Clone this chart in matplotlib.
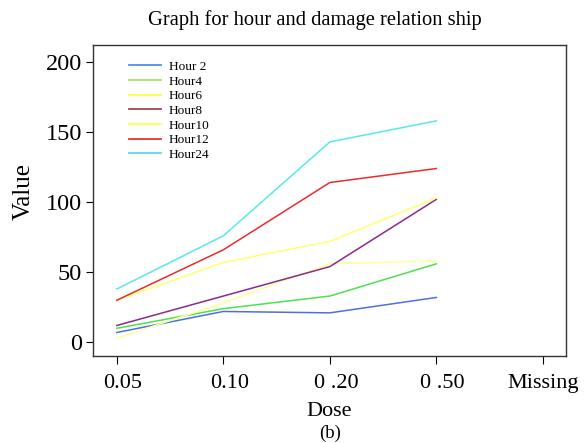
import numpy as np
import matplotlib
matplotlib.use("Agg")
import matplotlib.pyplot as plt
import matplotlib.transforms as mtransforms

plt.rcParams['font.family'] = ['Liberation Serif', 'DejaVu Serif']

# data
doses = ["0.05", "0.10", "0 .20", "0 .50", "Missing"]
hour2 = [7, 22, 21, 32]
hour4 = [10, 24, 33, 56]
hour6 = [3, 28, 56, 58]
hour8 = [12, 33, 54, 102]
hour10 = [30, 57, 72, 103]
hour12 = [30, 66, 114, 124]
hour24 = [38, 76, 143, 158]

labels = ["Hour 2", "Hour4", "Hour6", "Hour8", "Hour10", "Hour12", "Hour24"]
series = [hour2, hour4, hour6, hour8, hour10, hour12, hour24]
colors = ["#4f6fdc", "#4ee04e", "#ffff9a", "#8a2a8a", "#ffff70", "#ee2a2a", "#55eaea"]
legend_colors = ["#4f8fe8", "#a8e060", "#ffff40", "#a04848", "#ffff50", "#e83030", "#55dde8"]

fig = plt.figure(figsize=(5.84, 4.43), dpi=100)
ax = fig.add_axes([0.159, 0.196, 0.81, 0.702])

x = np.arange(len(doses))
for s, c in zip(series, colors):
    ax.plot(x[:len(s)], s, color=c, lw=1.1)

# legend
handles = [plt.Line2D([], [], color=c, lw=1.3) for c in legend_colors]
ax.legend(handles, labels, loc="upper left", bbox_to_anchor=(0.06, 0.975),
          frameon=False, fontsize=9.5, handlelength=2.4, labelspacing=0.18,
          handletextpad=0.6, borderaxespad=0.2)

ax.set_xlim(-0.225, 4.216)
ax.set_ylim(-9.9, 212)
ax.set_xticks(x)
ax.set_xticklabels(doses, fontsize=16)
ax.set_yticks([0, 50, 100, 150, 200])
ax.tick_params(axis='y', labelsize=17.5, length=5, width=0.8, pad=3)
ax.tick_params(axis='x', length=6, width=0.8, pad=7)
# the reference's dose labels sit a little right of their ticks
labs = ax.get_xticklabels()
for lab in labs[:-1]:
    shift = mtransforms.ScaledTranslation(6 / 100, 0, fig.dpi_scale_trans)
    lab.set_transform(lab.get_transform() + shift)
for sp in ax.spines.values():
    sp.set_color("#333333")
    sp.set_linewidth(1.0)

ax.set_ylabel("Value", fontsize=18)
ax.yaxis.set_label_coords(-0.122, 0.53)
ax.set_xlabel("Dose", fontsize=16, labelpad=6)
fig.text(0.565, 0.022, "(b)", fontsize=13.5, ha="center", va="center")
fig.text(0.54, 0.955, "Graph for hour and damage relation ship", fontsize=14.8,
         ha="center", va="center")

fig.savefig("out.png", dpi=100)
